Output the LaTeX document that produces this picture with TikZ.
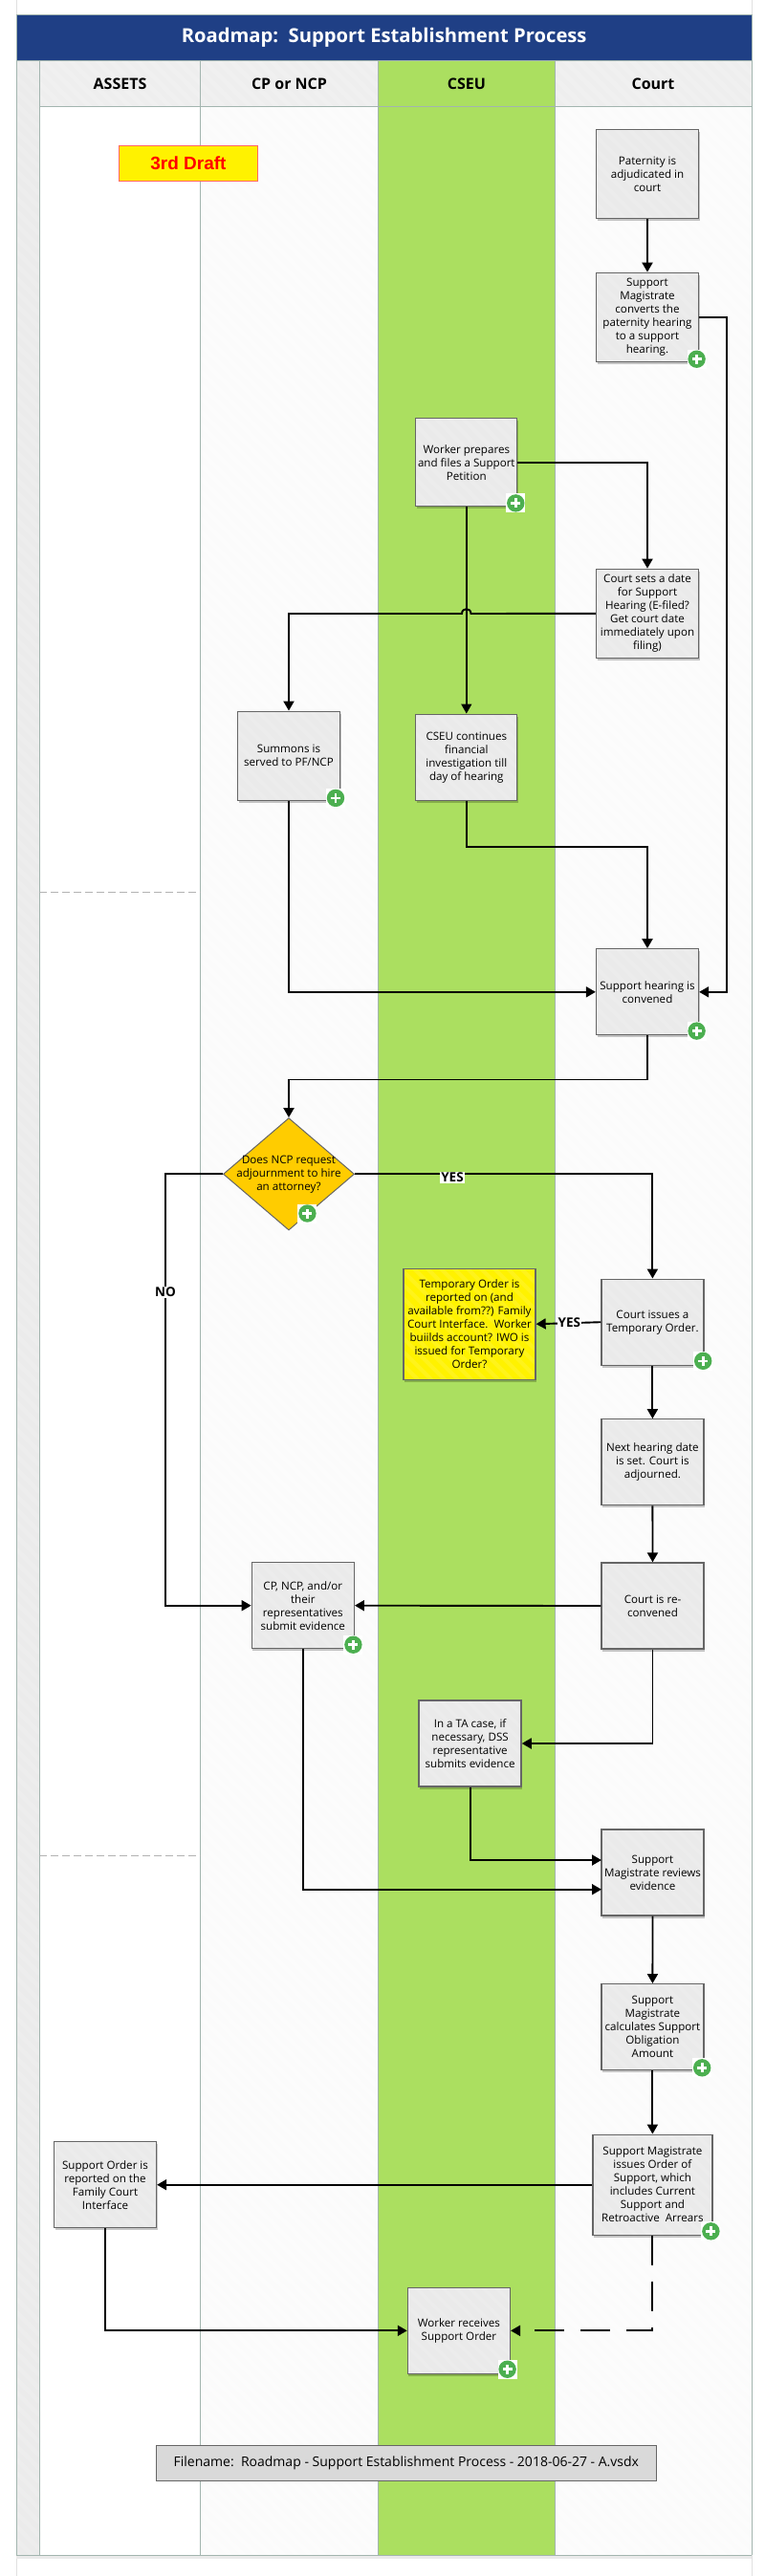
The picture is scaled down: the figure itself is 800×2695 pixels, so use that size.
\documentclass[tikz,border=0pt]{standalone}
\usepackage{fontspec}
\setmainfont{Open Sans}
\newfontfamily\draftfont{Liberation Sans}
\usetikzlibrary{arrows.meta,shapes.geometric,calc,shadows}
\definecolor{titleblue}{HTML}{1F3F85}
\definecolor{stripgray}{HTML}{EBEBEB}
\definecolor{headgray}{HTML}{EEEEEE}
\definecolor{lanegray}{HTML}{FBFBFB}
\definecolor{lanegreen}{HTML}{ABDF60}
\definecolor{laneline}{HTML}{A3B5AF}
\definecolor{boxgray}{HTML}{EAEAEA}
\definecolor{boxline}{HTML}{666666}
\definecolor{badgegreen}{HTML}{4CAF50}
\definecolor{gold}{HTML}{FFCC00}
\newcommand{\hatcharea}[5]{%
  \begin{scope}
    \clip (#1,#2) rectangle (#3,#4);
    \pgfmathsetmacro{\hw}{#3-#1}
    \pgfmathsetmacro{\hfrom}{#2-\hw}
    \pgfmathsetmacro{\hnext}{\hfrom+14}
    \foreach \hy in {\hfrom,\hnext,...,#4}{
      \draw[draw=#5,line width=5pt] (#1,\hy) -- ++(\hw,\hw);
    }
  \end{scope}}
\tikzset{
  x=1pt,y=-1pt,
  body/.style={font=\fontsize{11.6}{14}\selectfont,align=center,inner sep=0pt,text=black},
  softshadow/.style={general shadow={shadow xshift=1pt,shadow yshift=-2.5pt,fill=black,opacity=.22}},
  boxhatch/.style={path picture={
    \foreach \hk in {-140,-126,...,140}{
      \draw[draw=white,opacity=.1,line width=4pt]
        ($(path picture bounding box.center)+(\hk-80,-80)$) -- ++(160,160);
    }}},
  procbox/.style={body,draw=boxline,fill=boxgray,line width=1.3pt,softshadow,boxhatch,
    minimum width=107pt,minimum height=90pt},
  yellowbox/.style={procbox,fill=yellow},
  decision/.style={diamond,draw=boxline,fill=gold,line width=1pt,inner sep=0pt,
    minimum width=137pt,minimum height=117.4pt,aspect=1.167},
  lanehead/.style={font=\fontsize{16}{18}\selectfont\bfseries,text=black,inner sep=0pt},
  flow/.style={line width=1.9pt,draw=black,line join=miter,-{Triangle[length=10pt,width=11pt]}},
  thinflow/.style={flow,line width=1.4pt},
  plainlab/.style={font=\fontsize{13.5}{15}\selectfont\bfseries,fill=white,inner xsep=1pt,inner ysep=1pt},
  lanerule/.style={draw=laneline,line width=0.9pt},
  badge/.pic={
    \fill[white] (-10,-10) rectangle (10,10);
    \fill[badgegreen] (0,0) circle[radius=9.2pt];
    \fill[white] (-5,-1.3) rectangle (5,1.3);
    \fill[white] (-1.3,-5) rectangle (1.3,5);
  }
}
\begin{document}
\begin{tikzpicture}
\useasboundingbox (0,0) rectangle (800,2695);
\fill[white] (0,0) rectangle (800,2695);
% page edges
\draw[draw=black!12,line width=0.6pt] (17.3,0) -- (17.3,15) (786,0) -- (786,15) (17.3,2673) -- (17.3,2695) (786,2673) -- (786,2695);
% lanes
\fill[stripgray] (17.3,63) rectangle (41.3,2673);
\fill[white] (41.3,112) rectangle (209.7,2673);
\fill[lanegray] (209.7,112) rectangle (395.4,2673);
\fill[lanegreen] (395.4,63) rectangle (580.6,2673);
\fill[lanegray] (580.6,112) rectangle (786,2673);
\fill[headgray] (41.3,63) rectangle (395.4,112);
\fill[headgray] (580.6,63) rectangle (786,112);
\hatcharea{17.3}{63}{41.3}{2673}{white!93!black}
\hatcharea{209.7}{112}{395.4}{2673}{white!99!black}
\hatcharea{580.6}{112}{786}{2673}{white!99!black}
\hatcharea{41.3}{63}{395.4}{112}{white!94!black}
\hatcharea{580.6}{63}{786}{112}{white!94!black}
\fill[black!8] (17.3,2673.5) rectangle (786,2677);
\foreach \vx in {17.3,41.3,209.7,395.4,580.6,786}{\draw[lanerule] (\vx,63) -- (\vx,2673);}
\draw[lanerule] (17.3,2673) -- (786,2673);
\draw[lanerule,line width=1pt] (41.3,112) -- (786,112);
\draw[draw=black!30,line width=0.7pt,dash pattern=on 8pt off 4pt] (41.3,933.6) -- (209.7,933.6);
\draw[draw=black!30,line width=0.7pt,dash pattern=on 8pt off 4pt] (41.3,1941.3) -- (209.7,1941.3);
% title
\node[fill=titleblue,draw=laneline,line width=0.6pt,minimum width=768.7pt,minimum height=48pt,inner sep=0pt,
  font=\fontsize{20.2}{26}\selectfont\bfseries,text=white] (title) at (401.65,39) {Roadmap:\ \ Support Establishment Process};
\node[lanehead] (h1) at (125.5,87.5) {ASSETS};
\node[lanehead] (h2) at (302.5,87.5) {CP or NCP};
\node[lanehead] (h3) at (488,87.5) {CSEU};
\node[lanehead] (h4) at (683,87.5) {Court};
% draft
\node[draw=red!60!white,fill=yellow,line width=1.3pt,minimum width=145pt,minimum height=36.6pt,inner sep=0pt,
  font=\draftfont\fontsize{19}{20}\selectfont\bfseries,text=red] (draft) at (197,171) {3rd Draft};
% boxes
\node[procbox,minimum height=93pt] (pat) at (677,182.2) {Paternity is\\adjudicated in\\court};
\node[procbox,minimum height=93pt] (conv) at (677,331.8) {Support\\Magistrate\\converts the\\paternity hearing\\to a support\\hearing.};
\node[procbox,minimum height=92pt,minimum width=106pt] (prep) at (487.8,483.8) {Worker prepares\\and files a Support\\Petition};
\node[procbox,minimum height=93pt] (sets) at (677,641.8) {Court sets a date\\for Support\\Hearing (E-filed?\\Get court date\\immediately upon\\filing)};
\node[procbox,minimum height=93pt] (summ) at (302,790.7) {Summons is\\served to PF/NCP};
\node[procbox,minimum height=90pt,minimum width=106pt] (cont) at (487.8,792.2) {CSEU continues\\financial\\investigation till\\day of hearing};
\node[procbox] (hear) at (677,1037.8) {Support hearing is\\convened};
\node[decision,label={[body]center:{Does NCP request\\adjournment to hire\\an attorney?}}] (adj) at (302,1228.3) {};
\node[yellowbox,minimum width=138pt,minimum height=116pt] (temp) at (491,1385.2) {Temporary Order is\\reported on (and\\available from??) Family\\Court Interface.\ \ Worker\\buiilds account? IWO is\\issued for Temporary\\Order?};
\node[procbox] (iss) at (682.4,1383.2) {Court issues a\\Temporary Order.};
\node[procbox] (next) at (682.4,1529.8) {Next hearing date\\is set. Court is\\adjourned.};
\node[procbox] (rec) at (682.5,1680) {Court is re-\\convened};
\node[procbox] (ev) at (316.8,1679.7) {CP, NCP, and/or\\their\\representatives\\submit evidence};
\node[procbox] (ta) at (491.6,1824) {In a TA case, if\\necessary, DSS\\representative\\submits evidence};
\node[procbox] (rev) at (682.5,1959) {Support\\Magistrate reviews\\evidence};
\node[procbox] (calc) at (682.4,2120.7) {Support\\Magistrate\\calculates Support\\Obligation\\Amount};
\node[procbox,minimum width=125pt,minimum height=105pt] (ord) at (682.4,2285.7) {Support Magistrate\\issues Order of\\Support, which\\includes Current\\Support and\\Retroactive\ \ Arrears};
\node[procbox] (fam) at (110,2285.7) {Support Order is\\reported on the\\Family Court\\Interface};
\node[procbox] (recv) at (479.9,2438.3) {Worker receives\\Support Order};
\node[fill=black!15,draw=boxline,line width=1.3pt,minimum width=523pt,minimum height=36.6pt,inner sep=0pt,
  font=\fontsize{14}{16}\selectfont] (file) at (424.8,2577) {Filename:\ \ Roadmap - Support Establishment Process - 2018-06-27 - A.vsdx};
% bend points
\coordinate (jumpR) at (492.5,642);
\coordinate (jumpL) at (483,642);
\coordinate (revA) at (629,1946);
\coordinate (revB) at (629,1976.7);
\coordinate (noBend) at (173,1228.3);
% connectors
\draw[flow] (pat) -- (conv);
\draw[flow] (conv.east) -- ++(28.5,0) |- (hear.east);
\draw[flow] (prep.east) -| (sets.north);
\draw[thinflow] (prep.south) -- (cont.north);
\draw[flow] (sets.west) -- (jumpR) .. controls ($(jumpR)+(0,-6.5)$) and ($(jumpL)+(0,-6.5)$) .. (jumpL) -| (summ.north);
\draw[flow] (cont.south) -- ++(0,47.8) -| (hear.north);
\draw[flow] (summ.south) |- (hear.west);
\draw[flow] (hear.south) -- ++(0,46) -| (adj.north);
\draw[flow] (adj.west) -- (noBend) |- (ev.west);
\draw[flow] (adj.east) -| (iss.north);
\draw[flow] (iss.west) -- (temp.east);
\draw[flow] (iss) -- (next);
\draw[flow] (next) -- (rec);
\draw[flow] (rec.west) -- (ev.east);
\draw[flow] (rec.south) |- (ta.east);
\draw[flow] (ta.south) |- (revA);
\draw[flow] (ev.south) |- (revB);
\draw[flow] (rev) -- (calc);
\draw[flow] (calc) -- (ord);
\draw[flow] (ord.west) -- (fam.east);
\draw[flow] (fam.south) |- (recv.west);
\draw[flow,dash pattern=on 31pt off 17pt] (ord.south) |- (recv.east);
% labels
\node[plainlab] (no) at (173,1351.8) {NO};
\node[plainlab] (yes1) at (473,1232) {YES};
\node[plainlab,fill=lanegray,inner xsep=0.5pt] (yes2) at (595.4,1383.6) {YES};
% badges
\foreach \bx/\by in {728.6/375.7,539.3/526.4,351/834.9,728.6/1078.6,321.4/1269.5,735.2/1423.8,369.4/1720.7,734.2/2163.3,743.4/2334.3,530.6/2478.7}{
  \pic at (\bx,\by) {badge};
}
\end{tikzpicture}
\end{document}
